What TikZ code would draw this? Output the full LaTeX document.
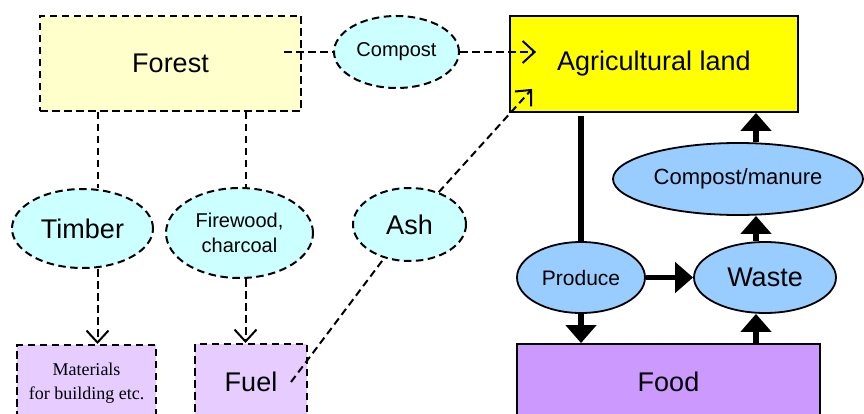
\documentclass[tikz,border=0pt]{standalone}
\usepackage{fontspec}
\setmainfont{Liberation Sans}
\newfontfamily\timesface{Liberation Serif}
\usetikzlibrary{arrows.meta,shapes.geometric}
\definecolor{forestfill}{HTML}{FFFFCC}
\definecolor{agrifill}{HTML}{FFFF00}
\definecolor{cyanfill}{HTML}{CCFFFF}
\definecolor{lilacfill}{HTML}{E6CCFF}
\definecolor{foodfill}{HTML}{CC99FF}
\definecolor{bluefill}{HTML}{99CCFF}

\begin{document}
\begin{tikzpicture}[x=1pt,y=-1pt,
  area/.style={rectangle,draw,line width=1.8pt,inner sep=0pt,align=center},
  dashbox/.style={area,line width=2pt,dash pattern=on 7.5pt off 4.5pt},
  blob/.style={ellipse,draw,line width=1.8pt,inner sep=0pt,align=center},
  dashblob/.style={blob,fill=cyanfill,line width=2pt,dash pattern=on 7.5pt off 4.5pt},
  big/.style={font=\fontsize{27}{30}\selectfont},
  small/.style={font=\fontsize{20}{25}\selectfont},
  link/.style={line width=2pt,dash pattern=on 7.5pt off 4.5pt},
  linkarr/.style={link,-{Straight Barb[length=12pt,width=22pt]}},
  bulk/.style={line width=5.5pt},
  bulkarr/.style={bulk,-{Triangle[length=18pt,width=30pt]}}]
  \useasboundingbox (0,0) rectangle (864,414);
  \clip (0,0) rectangle (864,414);
  % wood side
  \node[dashbox,big,fill=forestfill,minimum width=261pt,minimum height=95pt] (forest) at (170.5,63.5) {Forest};
  \node[dashblob,small,minimum width=125pt,minimum height=72pt] (compost) at (396.5,52) {Compost};
  \node[dashblob,big,minimum width=141pt,minimum height=79pt] (timber) at (82.5,228.5) {Timber};
  \node[dashblob,small,minimum width=147pt,minimum height=90pt] (firewood) at (239.5,233) {Firewood,\\charcoal};
  \node[dashblob,big,minimum width=113pt,minimum height=73pt] (ash) at (409.5,224.5) {Ash};
  \node[dashbox,fill=lilacfill,font=\timesface\fontsize{18}{24}\selectfont,minimum width=139pt,minimum height=76pt] (mat) at (86.5,383) {Materials\\for building etc.};
  \node[dashbox,big,fill=lilacfill,minimum width=112pt,minimum height=76pt] (fuel) at (251,382) {Fuel};
  % farm side
  \node[area,big,fill=agrifill,minimum width=288pt,minimum height=96pt] (agri) at (654,64) {Agricultural land};
  \node[blob,fill=bluefill,font=\fontsize{22}{26}\selectfont,minimum width=250pt,minimum height=72pt] (cmanure) at (738,179) {Compost/manure};
  \node[blob,fill=bluefill,font=\fontsize{21}{25}\selectfont,minimum width=128pt,minimum height=71pt] (produce) at (581,277.5) {Produce};
  \node[blob,big,fill=bluefill,minimum width=142pt,minimum height=71pt] (waste) at (765,277.5) {Waste};
  \node[area,big,fill=foodfill,minimum width=303pt,minimum height=76pt] (food) at (668.5,382) {Food};

  \draw[link] ([xshift=-18pt]forest.east |- compost.west) -- (compost.west);
  \draw[linkarr] (compost.east) -- ([xshift=27pt]agri.west |- compost.east);
  \draw[link] ([xshift=15pt]timber.north |- forest.south) -- ([xshift=15pt]timber.north);
  \draw[linkarr] ([xshift=15pt]timber.south) -- ([xshift=15pt]timber.south |- mat.north);
  \draw[link] ([xshift=6pt]firewood.north |- forest.south) -- ([xshift=6pt]firewood.north);
  \draw[linkarr] ([xshift=6pt]firewood.south) -- ([xshift=6pt]firewood.south |- fuel.north);
  \draw[link] ([xshift=-17pt]fuel.east) -- (ash);
  \draw[linkarr] (ash) -- ([xshift=23pt,yshift=24pt]agri.south west);

  \draw[bulk,shorten <=3pt] (produce.north |- agri.south) -- (produce.north);
  \draw[bulkarr] (produce.south) -- (produce.south |- food.north);
  \draw[bulkarr] (produce.east) -- (waste.west);
  \draw[bulkarr] ([xshift=-9pt]waste.south |- food.north) -- ([xshift=-9pt]waste.south);
  \draw[bulkarr] ([xshift=-9pt]waste.north) -- ([xshift=-9pt]waste.north |- cmanure.south);
  \draw[bulkarr] ([xshift=18pt]cmanure.north) -- ([xshift=18pt]cmanure.north |- agri.south);
\end{tikzpicture}
\end{document}
